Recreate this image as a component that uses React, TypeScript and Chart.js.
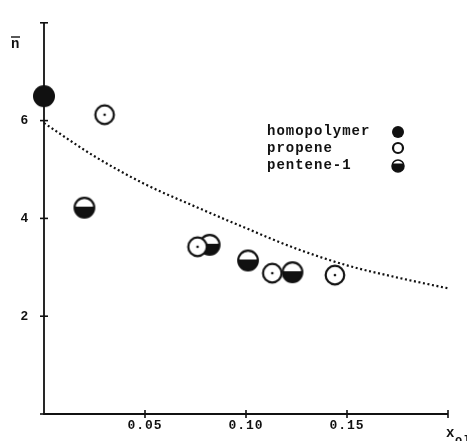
import React, { useEffect, useRef } from "react";
import { Chart, registerables } from "chart.js";

Chart.register(...registerables);

// ---- data ----
const homopolymerX = [0.0];
const homopolymerY = [6.5];

const propeneX = [0.03, 0.076, 0.113, 0.144];
const propeneY = [6.12, 3.42, 2.88, 2.84];

const penteneX = [0.02, 0.082, 0.101, 0.123];
const penteneY = [4.22, 3.46, 3.14, 2.9];

const curveX = [0.0, 0.025, 0.05, 0.075, 0.1, 0.125, 0.15, 0.175, 0.2];
const curveY = [5.95, 5.27, 4.7, 4.24, 3.8, 3.38, 3.04, 2.79, 2.57];

const xTickValues = [0.05, 0.1, 0.15];
const xTickLabels = ["0.05", "0.10", "0.15"];
const yTickValues = [2, 4, 6];
const yTickLabels = ["2", "4", "6"];

const legendLabels = ["homopolymer", "propene", "pentene-1"];

const INK = "#111111";

function makeCanvas(size: number) {
  const c = document.createElement("canvas");
  c.width = size;
  c.height = size;
  return c;
}

function drawFilled(ctx: CanvasRenderingContext2D, cx: number, cy: number, r: number) {
  ctx.beginPath();
  ctx.arc(cx, cy, r, 0, Math.PI * 2);
  ctx.fillStyle = INK;
  ctx.fill();
}

function drawOpen(ctx: CanvasRenderingContext2D, cx: number, cy: number, r: number, lw: number, dot: boolean) {
  ctx.beginPath();
  ctx.arc(cx, cy, r, 0, Math.PI * 2);
  ctx.fillStyle = "#ffffff";
  ctx.fill();
  ctx.lineWidth = lw;
  ctx.strokeStyle = INK;
  ctx.stroke();
  if (dot) {
    ctx.beginPath();
    ctx.arc(cx, cy, 1.3, 0, Math.PI * 2);
    ctx.fillStyle = INK;
    ctx.fill();
  }
}

function drawHalf(ctx: CanvasRenderingContext2D, cx: number, cy: number, r: number, lw: number, chord: number) {
  ctx.beginPath();
  ctx.arc(cx, cy, r, 0, Math.PI * 2);
  ctx.fillStyle = "#ffffff";
  ctx.fill();
  ctx.save();
  ctx.beginPath();
  ctx.arc(cx, cy, r, 0, Math.PI * 2);
  ctx.clip();
  ctx.fillStyle = INK;
  ctx.fillRect(cx - r - 2, cy + chord, 2 * r + 4, 2 * r + 4);
  ctx.restore();
  ctx.beginPath();
  ctx.arc(cx, cy, r, 0, Math.PI * 2);
  ctx.lineWidth = lw;
  ctx.strokeStyle = INK;
  ctx.stroke();
}

function homoStyle() {
  const c = makeCanvas(26);
  drawFilled(c.getContext("2d")!, 13, 13, 11);
  return c;
}
function propeneStyle() {
  const c = makeCanvas(26);
  drawOpen(c.getContext("2d")!, 13, 13, 9.3, 2.2, true);
  return c;
}
function penteneStyle() {
  const c = makeCanvas(26);
  drawHalf(c.getContext("2d")!, 13, 13, 9.8, 2.2, -1);
  return c;
}

const toXY = (xs: number[], ys: number[]) => xs.map((x, i) => ({ x, y: ys[i] }));

const decorPlugin = {
  id: "decor",
  beforeDraw(chart: any) {
    chart.ctx.letterSpacing = "1px";
  },
  beforeDatasetsDraw(chart: any) {
    const ctx: CanvasRenderingContext2D = chart.ctx;
    const xs = chart.scales.x;
    const ys = chart.scales.y;
    const x0 = xs.getPixelForValue(0);
    const x1 = xs.getPixelForValue(0.2);
    const y0 = ys.getPixelForValue(0);
    const y1 = ys.getPixelForValue(8);
    ctx.save();
    ctx.strokeStyle = INK;
    ctx.lineWidth = 1.8;
    ctx.beginPath();
    ctx.moveTo(x0, y1);
    ctx.lineTo(x0, y0);
    ctx.lineTo(x1, y0);
    ctx.stroke();
    ctx.lineWidth = 1.6;
    [2, 4, 6, 8].forEach((v) => {
      const p = ys.getPixelForValue(v);
      ctx.beginPath();
      ctx.moveTo(x0 - 4, p);
      ctx.lineTo(x0 + 4, p);
      ctx.stroke();
    });
    ctx.beginPath();
    ctx.moveTo(x0 - 4, y0);
    ctx.lineTo(x0, y0);
    ctx.stroke();
    [0.05, 0.1, 0.15, 0.2].forEach((v) => {
      const p = xs.getPixelForValue(v);
      ctx.beginPath();
      ctx.moveTo(p, y0 - 4);
      ctx.lineTo(p, y0 + 4);
      ctx.stroke();
    });
    ctx.restore();
  },
  afterDraw(chart: any) {
    const ctx: CanvasRenderingContext2D = chart.ctx;
    ctx.save();
    // axis titles
    ctx.fillStyle = INK;
    ctx.strokeStyle = INK;
    ctx.textBaseline = "middle";
    ctx.textAlign = "left";
    ctx.font = "bold 14px 'Liberation Mono'";
    ctx.fillText("n", 11, 44);
    ctx.lineWidth = 1.4;
    ctx.beginPath();
    ctx.moveTo(11, 37);
    ctx.lineTo(20, 37);
    ctx.stroke();
    ctx.font = "bold 14px 'Liberation Mono'";
    ctx.fillText("x", 446, 433);
    ctx.font = "bold 12px 'Liberation Mono'";
    ctx.fillText("ol", 455, 441);

    // legend
    ctx.font = "bold 14px 'Liberation Mono'";
    const ly = [131, 148, 165];
    legendLabels.forEach((t, i) => ctx.fillText(t, 267, ly[i]));
    drawFilled(ctx, 398, ly[0] + 1, 6);
    drawOpen(ctx, 398, ly[1], 5, 2.2, false);
    drawHalf(ctx, 398, ly[2] + 1, 6, 1.5, -2.5);
    ctx.restore();
  },
};

export default function App() {
  const ref = useRef<HTMLCanvasElement | null>(null);
  useEffect(() => {
    if (!ref.current) return;
    const chart = new Chart(ref.current, {
      type: "scatter",
      data: {
        datasets: [
          {
            type: "line",
            label: "fit",
            data: toXY(curveX, curveY),
            borderColor: INK,
            borderWidth: 2.2,
            borderDash: [2, 2.6],
            pointRadius: 0,
            tension: 0.4,
            cubicInterpolationMode: "monotone",
            fill: false,
            order: 4,
          } as any,
          {
            label: "pentene-1",
            data: toXY(penteneX, penteneY),
            pointStyle: penteneStyle() as any,
            pointRadius: 11,
            clip: false,
            order: 3,
          } as any,
          {
            label: "propene",
            data: toXY(propeneX, propeneY),
            pointStyle: propeneStyle() as any,
            pointRadius: 11,
            clip: false,
            order: 2,
          } as any,
          {
            label: "homopolymer",
            data: toXY(homopolymerX, homopolymerY),
            pointStyle: homoStyle() as any,
            pointRadius: 12,
            clip: false,
            order: 1,
          } as any,
        ],
      },
      options: {
        animation: false,
        responsive: false,
        devicePixelRatio: 1,
        events: [],
        layout: { padding: { top: 13, right: 19, left: 0, bottom: 0 } },
        plugins: { legend: { display: false }, tooltip: { enabled: false } },
        scales: {
          x: {
            type: "linear",
            min: 0,
            max: 0.2,
            grid: { display: false, drawTicks: false },
            border: { display: false },
            afterFit: (s: any) => {
              s.height = 27;
            },
            ticks: {
              stepSize: 0.05,
              padding: 4,
              color: INK,
              font: { family: "'Liberation Mono'", size: 13, weight: "bold" },
              callback: (v: any) => {
                const i = xTickValues.findIndex((t) => Math.abs(t - Number(v)) < 1e-9);
                return i >= 0 ? xTickLabels[i] : "";
              },
            },
          },
          y: {
            type: "linear",
            min: 0,
            max: 8,
            grid: { display: false, drawTicks: false },
            border: { display: false },
            afterFit: (s: any) => {
              s.width = 44;
            },
            ticks: {
              stepSize: 2,
              padding: 15,
              color: INK,
              font: { family: "'Liberation Sans'", size: 13, weight: "bold" },
              callback: (v: any) => {
                const i = yTickValues.indexOf(Number(v));
                return i >= 0 ? yTickLabels[i] : "";
              },
            },
          },
        },
      },
      plugins: [decorPlugin],
    });
    return () => chart.destroy();
  }, []);
  return (
    <div style={{ position: "fixed", left: 0, top: 0, width: 467, height: 441, background: "#fff" }}>
      <canvas ref={ref} width={467} height={441} />
    </div>
  );
}
